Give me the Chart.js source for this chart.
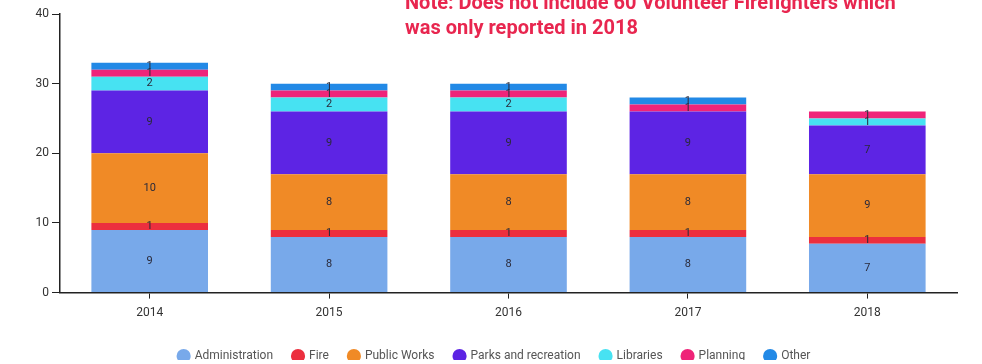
<!DOCTYPE html>
<html>
<head>
  <meta charset="UTF-8">
  <title>Employees by Department</title>
  <style>
    html, body { margin: 0; padding: 0; background: #fff; }
    .wrap { position: relative; width: 982px; height: 364px; overflow: hidden; }
    .note {
      position: absolute; left: 405px; top: -10px;
      font: bold 20px Roboto, sans-serif; line-height: 25px;
      color: #e8264f; white-space: nowrap;
    }
  </style>
</head>
<body>
  <div class="wrap">
    <canvas id="staffChart" width="982" height="364"></canvas>
    <div class="note">Note: Does not include 60 Volunteer Firefighters which<br>was only reported in 2018</div>
  </div>

  <script src="https://cdn.jsdelivr.net/npm/chart.js"></script>
  <script>
    const years = ["2014", "2015", "2016", "2017", "2018"];
    const administration = [9, 8, 8, 8, 7];
    const fire = [1, 1, 1, 1, 1];
    const publicWorks = [10, 8, 8, 8, 9];
    const parksAndRecreation = [9, 9, 9, 9, 7];
    const libraries = [2, 2, 2, 0, 1];
    const planning = [1, 1, 1, 1, 1];
    const other = [1, 1, 1, 1, 0];
    const yTicks = [0, 10, 20, 30, 40];

    // value printed in the middle of each stacked segment
    const segmentLabels = {
      id: "segmentLabels",
      afterDatasetsDraw(chart) {
        const ctx = chart.ctx;
        ctx.save();
        ctx.font = "11px Roboto, sans-serif";
        ctx.fillStyle = "#2a2a3a";
        ctx.textAlign = "center";
        ctx.textBaseline = "middle";
        chart.data.datasets.forEach((ds, i) => {
          const meta = chart.getDatasetMeta(i);
          if (meta.hidden) return;
          meta.data.forEach((bar, j) => {
            const v = ds.data[j];
            if (!v) return;
            const p = bar.getProps(["x", "y", "base"], true);
            ctx.fillText(String(v), p.x, (p.y + p.base) / 2);
          });
        });
        ctx.restore();
      }
    };

    // pull the legend closer to the bottom edge and nudge it right
    const legendTighten = {
      id: "legendTighten",
      beforeUpdate(chart) {
        const legend = chart.legend;
        if (!legend || legend._tightened) return;
        const fit = legend.fit;
        legend.fit = function () {
          fit.call(this);
          this.height -= 12;
        };
        legend._tightened = true;
      },
      afterLayout(chart) {
        const legend = chart.legend;
        if (!legend) return;
        legend.left += 16;
        legend.right += 16;
      }
    };

    const series = [
      { label: "Administration", data: administration, color: "#78a9ea" },
      { label: "Fire", data: fire, color: "#ec2f3e" },
      { label: "Public Works", data: publicWorks, color: "#f08a26" },
      { label: "Parks and recreation", data: parksAndRecreation, color: "#5d24e4" },
      { label: "Libraries", data: libraries, color: "#47e2f2" },
      { label: "Planning", data: planning, color: "#ef2479" },
      { label: "Other", data: other, color: "#2289e6" }
    ];

    new Chart(document.getElementById("staffChart"), {
      type: "bar",
      data: {
        labels: years,
        datasets: series.map(s => ({
          label: s.label,
          data: s.data,
          backgroundColor: s.color,
          borderWidth: 0,
          categoryPercentage: 0.65,
          barPercentage: 1
        }))
      },
      options: {
        responsive: false,
        animation: false,
        layout: { padding: { left: 0, right: 25, top: 14, bottom: 4 } },
        plugins: {
          tooltip: { enabled: false },
          legend: {
            position: "bottom",
            labels: {
              usePointStyle: true,
              pointStyle: "circle",
              boxWidth: 10,
              boxHeight: 10,
              padding: 20,
              color: "#555",
              font: { family: "Roboto", size: 12 }
            }
          }
        },
        scales: {
          x: {
            stacked: true,
            afterFit(scale) { scale.height += 3; },
            grid: { offset: false, drawOnChartArea: false, drawTicks: true, tickLength: 6, color: "#222" },
            border: { display: true, color: "#222", width: 1.5 },
            ticks: { color: "#333", font: { family: "Roboto", size: 12 }, padding: 7 }
          },
          y: {
            stacked: true,
            min: 0,
            max: 40,
            afterFit(scale) { scale.width = 60; },
            afterBuildTicks(scale) { scale.ticks = yTicks.map(v => ({ value: v })); },
            grid: { drawOnChartArea: false, drawTicks: true, tickLength: 8, color: "#222" },
            border: { display: true, color: "#222", width: 1.5 },
            ticks: { color: "#333", font: { family: "Roboto", size: 12 }, padding: 3 }
          }
        }
      },
      plugins: [segmentLabels, legendTighten]
    });
  </script>
</body>
</html>
